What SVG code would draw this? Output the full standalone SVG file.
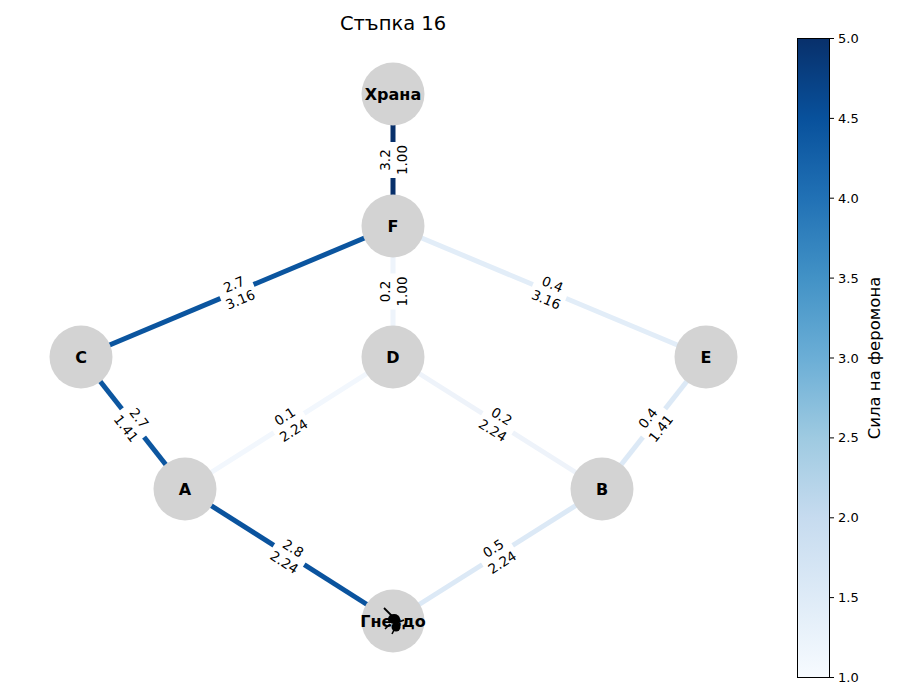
<svg xmlns="http://www.w3.org/2000/svg" width="900" height="700" viewBox="0 0 900 700">
  <defs>
    <linearGradient id="blues" x1="0" y1="1" x2="0" y2="0">
      <stop offset="0" stop-color="#f7fbff"/>
      <stop offset="0.125" stop-color="#deebf7"/>
      <stop offset="0.25" stop-color="#c6dbef"/>
      <stop offset="0.375" stop-color="#9ecae1"/>
      <stop offset="0.5" stop-color="#6baed6"/>
      <stop offset="0.625" stop-color="#4292c6"/>
      <stop offset="0.75" stop-color="#2171b5"/>
      <stop offset="0.875" stop-color="#08519c"/>
      <stop offset="1" stop-color="#08306b"/>
    </linearGradient>
  </defs>
  <style>
    .edge { stroke-width: 5; fill: none; }
    .node circle { fill: #d3d3d3; }
    .node text { font-family: "DejaVu Sans", sans-serif; font-weight: bold; font-size: 16px; text-anchor: middle; fill: #000; }
    .lbl rect { fill: #fff; }
    .lbl text { font-family: "DejaVu Sans", sans-serif; font-size: 13.5px; text-anchor: middle; fill: #000; }
    .tick { font-family: "DejaVu Sans", sans-serif; font-size: 13px; fill: #000; }
    .title { font-family: "DejaVu Sans", sans-serif; font-size: 19.5px; text-anchor: middle; fill: #000; }
  </style>
  <rect width="900" height="700" fill="#fff"/>

  <text class="title" x="393" y="30">Стъпка 16</text>

  <!-- connectors -->
  <g id="edges">
    <line class="edge" x1="393" y1="94" x2="393" y2="226" stroke="#08306b"/>
    <line class="edge" x1="81" y1="357" x2="393" y2="226" stroke="#0b559f"/>
    <line class="edge" x1="393" y1="226" x2="706" y2="357" stroke="#e2edf8"/>
    <line class="edge" x1="393" y1="226" x2="393" y2="357" stroke="#eef4fb"/>
    <line class="edge" x1="81" y1="357" x2="185" y2="489" stroke="#0c56a0"/>
    <line class="edge" x1="393" y1="357" x2="185" y2="489" stroke="#f2f7fd"/>
    <line class="edge" x1="393" y1="357" x2="602" y2="489" stroke="#eef3fa"/>
    <line class="edge" x1="706" y1="357" x2="602" y2="489" stroke="#dce9f6"/>
    <line class="edge" x1="185" y1="489" x2="393" y2="621" stroke="#0a539e"/>
    <line class="edge" x1="602" y1="489" x2="393" y2="621" stroke="#dce9f6"/>

    <!-- edge labels: pheromone / distance -->
    <g class="lbl" transform="translate(393,160) rotate(-90)">
      <rect x="-18" y="-15" width="36" height="31"/>
      <text y="-3">3.2</text><text y="13.5">1.00</text>
    </g>
    <g class="lbl" transform="translate(237,291.5) rotate(-22.8)">
      <rect x="-18" y="-15" width="36" height="31"/>
      <text y="-3">2.7</text><text y="13.5">3.16</text>
    </g>
    <g class="lbl" transform="translate(549.5,291.5) rotate(22.7)">
      <rect x="-18" y="-15" width="36" height="31"/>
      <text y="-3">0.4</text><text y="13.5">3.16</text>
    </g>
    <g class="lbl" transform="translate(393,291.5) rotate(-90)">
      <rect x="-18" y="-15" width="36" height="31"/>
      <text y="-3">0.2</text><text y="13.5">1.00</text>
    </g>
    <g class="lbl" transform="translate(133,423) rotate(51.8)">
      <rect x="-18" y="-15" width="36" height="31"/>
      <text y="-3">2.7</text><text y="13.5">1.41</text>
    </g>
    <g class="lbl" transform="translate(289,423) rotate(-32.4)">
      <rect x="-18" y="-15" width="36" height="31"/>
      <text y="-3">0.1</text><text y="13.5">2.24</text>
    </g>
    <g class="lbl" transform="translate(497.5,423) rotate(32.3)">
      <rect x="-18" y="-15" width="36" height="31"/>
      <text y="-3">0.2</text><text y="13.5">2.24</text>
    </g>
    <g class="lbl" transform="translate(654,423) rotate(-51.8)">
      <rect x="-18" y="-15" width="36" height="31"/>
      <text y="-3">0.4</text><text y="13.5">1.41</text>
    </g>
    <g class="lbl" transform="translate(289,555) rotate(32.4)">
      <rect x="-18" y="-15" width="36" height="31"/>
      <text y="-3">2.8</text><text y="13.5">2.24</text>
    </g>
    <g class="lbl" transform="translate(497.5,555) rotate(-32.4)">
      <rect x="-18" y="-15" width="36" height="31"/>
      <text y="-3">0.5</text><text y="13.5">2.24</text>
    </g>
  </g>

  <!-- nodes -->
  <g id="node-food" class="node"><circle cx="393" cy="94" r="31.5"/><text x="393" y="100">Храна</text></g>
  <g id="node-F" class="node"><circle cx="393" cy="226" r="31.5"/><text x="393" y="232">F</text></g>
  <g id="node-C" class="node"><circle cx="81" cy="357" r="31.5"/><text x="81" y="363">C</text></g>
  <g id="node-D" class="node"><circle cx="393" cy="357" r="31.5"/><text x="393" y="363">D</text></g>
  <g id="node-E" class="node"><circle cx="706" cy="357" r="31.5"/><text x="706" y="363">E</text></g>
  <g id="node-A" class="node"><circle cx="185" cy="489" r="31.5"/><text x="185" y="495">A</text></g>
  <g id="node-B" class="node"><circle cx="602" cy="489" r="31.5"/><text x="602" y="495">B</text></g>
  <g id="node-nest" class="node"><circle cx="393" cy="621" r="31.5"/><text x="393" y="627">Гнездо</text></g>

  <!-- ant marker at the nest -->
  <g id="ant" fill="#000" stroke="#000">
    <line x1="384" y1="608" x2="392" y2="616" stroke-width="1.8"/>
    <ellipse cx="394" cy="619" rx="6" ry="5" stroke="none"/>
    <ellipse cx="396" cy="627" rx="4.5" ry="4.5" stroke="none"/>
    <line x1="390" y1="624" x2="385" y2="629" stroke-width="1.6"/>
    <line x1="399" y1="622" x2="404" y2="620" stroke-width="1.6"/>
    <line x1="394" y1="630" x2="392" y2="634" stroke-width="1.6"/>
  </g>

  <!-- colour bar -->
  <g id="colorbar">
    <rect x="797.5" y="38.5" width="32" height="639" fill="url(#blues)" stroke="#000" stroke-width="1"/>
    <g stroke="#000" stroke-width="1">
      <line x1="829.5" y1="38.5" x2="834" y2="38.5"/>
      <line x1="829.5" y1="118.4" x2="834" y2="118.4"/>
      <line x1="829.5" y1="198.2" x2="834" y2="198.2"/>
      <line x1="829.5" y1="278.1" x2="834" y2="278.1"/>
      <line x1="829.5" y1="358" x2="834" y2="358"/>
      <line x1="829.5" y1="437.9" x2="834" y2="437.9"/>
      <line x1="829.5" y1="517.8" x2="834" y2="517.8"/>
      <line x1="829.5" y1="597.6" x2="834" y2="597.6"/>
      <line x1="829.5" y1="677.5" x2="834" y2="677.5"/>
    </g>
    <g class="tick">
      <text x="838" y="43">5.0</text>
      <text x="838" y="123">4.5</text>
      <text x="838" y="203">4.0</text>
      <text x="838" y="283">3.5</text>
      <text x="838" y="362.5">3.0</text>
      <text x="838" y="442">2.5</text>
      <text x="838" y="522">2.0</text>
      <text x="838" y="602">1.5</text>
      <text x="838" y="682">1.0</text>
    </g>
    <text transform="translate(880,358) rotate(-90)" font-family="DejaVu Sans, sans-serif" font-size="16.5" text-anchor="middle">Сила на феромона</text>
  </g>
</svg>
